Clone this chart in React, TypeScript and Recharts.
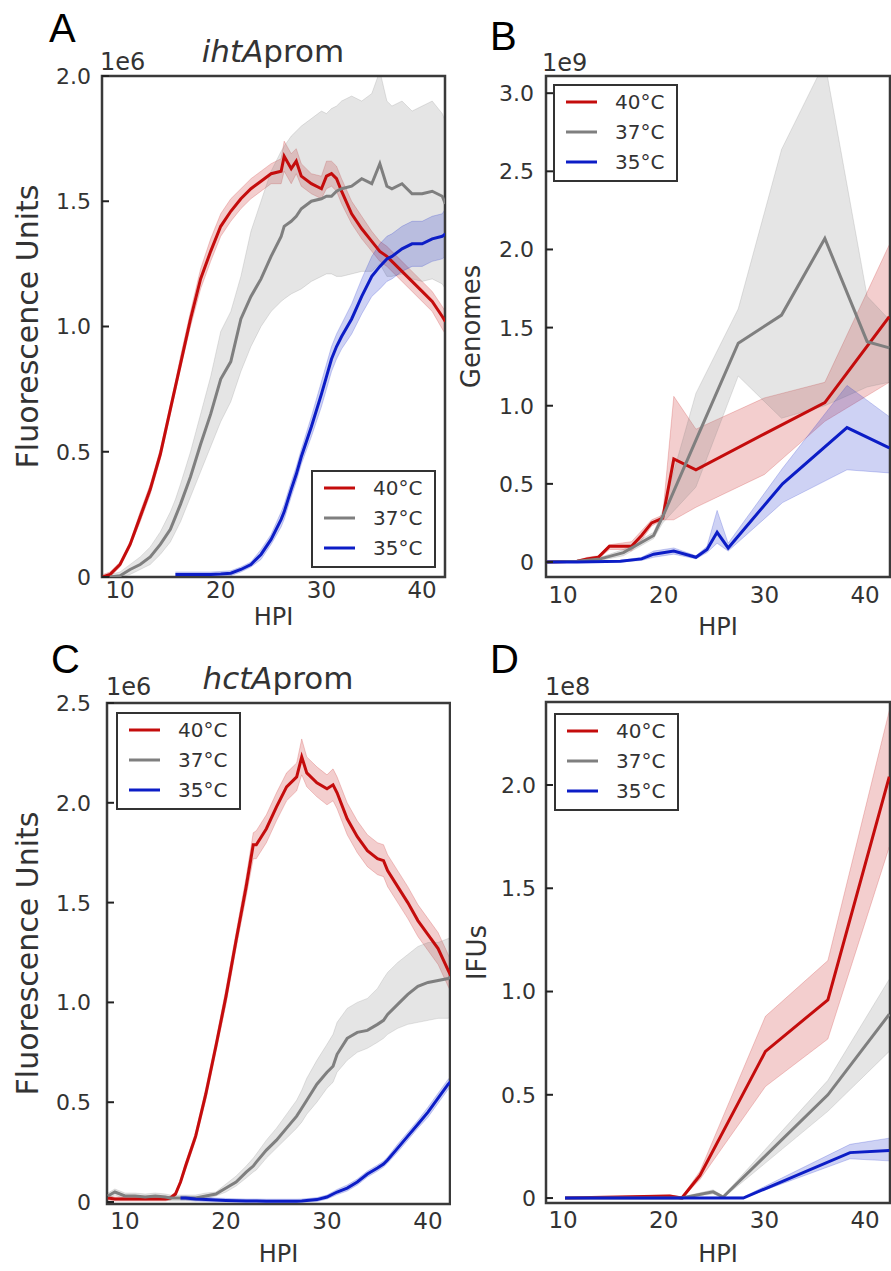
import { ComposedChart, Area, Line, XAxis, YAxis, ReferenceArea, Label } from "recharts";

const FONT = '"DejaVu Sans", sans-serif';
const TXT = "#333";
const RED = "#c40c0c";
const GRAY = "#7f7f7f";
const BLUE = "#0c1dc6";

// ---- Panel A: ihtAprom fluorescence (x1e6) ----
const aHours = [8.3, 9, 10, 11, 12, 13, 14, 15, 15.5, 16, 17, 18, 19, 20, 21, 22, 23, 24, 25, 26, 26.3, 27, 27.5, 28, 29, 30, 30.5, 31, 31.5, 32, 33, 34, 35, 35.8, 36.5, 37, 38, 39, 40, 41, 42, 42.3];
const aRed = [0, 0.01, 0.05, 0.13, 0.24, 0.35, 0.49, 0.67, 0.76, 0.85, 1.03, 1.19, 1.3, 1.4, 1.46, 1.51, 1.55, 1.58, 1.61, 1.62, 1.68, 1.63, 1.66, 1.6, 1.57, 1.55, 1.6, 1.61, 1.59, 1.54, 1.45, 1.39, 1.34, 1.3, 1.28, 1.26, 1.22, 1.18, 1.14, 1.1, 1.04, 1.02];
const aRedLo = [0, 0, 0.04, 0.12, 0.22, 0.33, 0.47, 0.65, 0.74, 0.83, 1.0, 1.15, 1.26, 1.36, 1.42, 1.47, 1.51, 1.54, 1.57, 1.57, 1.62, 1.57, 1.61, 1.56, 1.53, 1.51, 1.55, 1.56, 1.54, 1.49, 1.41, 1.35, 1.3, 1.26, 1.24, 1.22, 1.18, 1.14, 1.1, 1.06, 0.99, 0.97];
const aRedHi = [0.01, 0.02, 0.06, 0.14, 0.26, 0.37, 0.51, 0.69, 0.78, 0.88, 1.06, 1.23, 1.35, 1.45, 1.51, 1.55, 1.59, 1.62, 1.65, 1.67, 1.74, 1.69, 1.71, 1.65, 1.61, 1.6, 1.66, 1.66, 1.64, 1.59, 1.5, 1.44, 1.38, 1.34, 1.32, 1.3, 1.26, 1.22, 1.18, 1.14, 1.08, 1.06];
const aGray = [null, 0, 0.005, 0.03, 0.05, 0.08, 0.13, 0.19, 0.24, 0.29, 0.4, 0.53, 0.65, 0.79, 0.86, 1.03, 1.12, 1.19, 1.28, 1.36, 1.4, 1.42, 1.44, 1.47, 1.5, 1.51, 1.52, 1.52, 1.54, 1.55, 1.56, 1.59, 1.57, 1.65, 1.56, 1.55, 1.57, 1.53, 1.53, 1.54, 1.52, 1.49];
const aGrayLo = [null, 0, 0, 0.01, 0.03, 0.05, 0.09, 0.14, 0.18, 0.22, 0.32, 0.42, 0.52, 0.62, 0.7, 0.82, 0.92, 1.0, 1.06, 1.1, 1.11, 1.13, 1.14, 1.15, 1.18, 1.2, 1.21, 1.21, 1.2, 1.2, 1.21, 1.22, 1.22, 1.25, 1.2, 1.2, 1.21, 1.19, 1.18, 1.19, 1.17, 1.15];
const aGrayHi = [null, 0.01, 0.02, 0.05, 0.08, 0.12, 0.18, 0.26, 0.31, 0.37, 0.5, 0.65, 0.8, 0.98, 1.06, 1.2, 1.38, 1.5, 1.62, 1.7, 1.72, 1.76, 1.78, 1.8, 1.83, 1.86, 1.85, 1.87, 1.88, 1.9, 1.92, 1.9, 1.93, 2.02, 1.9, 1.88, 1.9, 1.86, 1.88, 1.9, 1.85, 1.82];
const aBlue = [null, null, null, null, null, null, null, null, 0.01, 0.01, 0.01, 0.01, 0.01, 0.012, 0.015, 0.03, 0.05, 0.09, 0.15, 0.23, 0.26, 0.35, 0.41, 0.48, 0.6, 0.73, 0.8, 0.87, 0.92, 0.96, 1.03, 1.12, 1.2, 1.24, 1.27, 1.28, 1.31, 1.33, 1.33, 1.35, 1.36, 1.37];
const aBlueLo = [null, null, null, null, null, null, null, null, 0, 0, 0, 0, 0, 0.002, 0.005, 0.02, 0.04, 0.07, 0.13, 0.2, 0.23, 0.32, 0.38, 0.45, 0.56, 0.68, 0.75, 0.82, 0.87, 0.91, 0.97, 1.05, 1.12, 1.15, 1.18, 1.19, 1.22, 1.24, 1.24, 1.26, 1.27, 1.28];
const aBlueHi = [null, null, null, null, null, null, null, null, 0.02, 0.02, 0.02, 0.02, 0.02, 0.022, 0.025, 0.04, 0.06, 0.11, 0.17, 0.26, 0.29, 0.38, 0.44, 0.51, 0.64, 0.78, 0.85, 0.92, 0.97, 1.01, 1.09, 1.19, 1.28, 1.33, 1.36, 1.37, 1.4, 1.42, 1.42, 1.44, 1.45, 1.47];

// ---- Panel B: genomes (x1e9) ----
const bRedHours = [8.4, 11.4, 12.4, 13.5, 14.6, 15.7, 16.8, 17.8, 18.8, 19.9, 21.0, 23.2, 30.0, 36.0, 42.4];
const bRed = [0, 0.005, 0.02, 0.03, 0.1, 0.1, 0.1, 0.17, 0.25, 0.28, 0.66, 0.59, 0.82, 1.02, 1.57];
const bRedLo = [0, 0, 0.01, 0.02, 0.08, 0.08, 0.07, 0.14, 0.23, 0.27, 0.27, 0.35, 0.56, 0.9, 1.15];
const bRedHi = [0, 0.01, 0.03, 0.04, 0.11, 0.12, 0.13, 0.2, 0.27, 0.3, 1.06, 0.85, 1.05, 1.15, 2.03];
const bGrayHours = [8.4, 11.4, 13.7, 16.0, 19.0, 19.9, 23.2, 27.4, 31.7, 36.0, 40.2, 42.4];
const bGray = [0, 0.005, 0.02, 0.06, 0.17, 0.29, 0.78, 1.4, 1.58, 2.07, 1.41, 1.37];
const bGrayLo = [0, 0, 0.01, 0.04, 0.15, 0.25, 0.48, 1.19, 0.92, 1.0, 1.12, 1.15];
const bGrayHi = [0, 0.01, 0.03, 0.08, 0.19, 0.33, 1.08, 1.62, 2.64, 3.2, 1.7, 1.55];
const bBlueHours = [8.4, 11.4, 15.7, 17.8, 19.0, 21.0, 23.2, 24.3, 25.3, 26.4, 31.8, 38.2, 42.4];
const bBlue = [0, 0, 0.005, 0.02, 0.05, 0.07, 0.03, 0.08, 0.19, 0.09, 0.5, 0.86, 0.73];
const bBlueLo = [0, 0, 0, 0.01, 0.03, 0.05, 0.02, 0.06, 0.12, 0.07, 0.38, 0.59, 0.57];
const bBlueHi = [0, 0, 0.01, 0.03, 0.07, 0.09, 0.04, 0.1, 0.33, 0.12, 0.6, 1.13, 0.93];

// ---- Panel C: hctAprom fluorescence (x1e6) ----
const cHours = [8.3, 9, 10, 11, 12, 13, 14, 14.5, 15, 15.5, 16, 17, 18, 19, 20, 21, 22, 22.7, 23, 24, 25, 26, 27, 27.5, 28, 29, 30, 30.6, 31, 32, 33, 34, 35, 35.6, 36, 37, 38, 39, 40, 41, 42, 42.4];
const cRed = [0.02, 0.015, 0.015, 0.015, 0.015, 0.015, 0.015, 0.02, 0.04, 0.1, 0.18, 0.33, 0.54, 0.78, 1.03, 1.31, 1.58, 1.79, 1.79, 1.87, 1.98, 2.08, 2.13, 2.23, 2.15, 2.1, 2.07, 2.09, 2.05, 1.92, 1.83, 1.76, 1.72, 1.71, 1.66, 1.58, 1.5, 1.41, 1.34, 1.27, 1.16, 1.12];
const cRedLo = [0.01, 0.005, 0.005, 0.005, 0.005, 0.005, 0.005, 0.01, 0.03, 0.09, 0.16, 0.31, 0.51, 0.75, 0.99, 1.27, 1.53, 1.72, 1.72, 1.8, 1.91, 2.01, 2.06, 2.14, 2.08, 2.03, 1.99, 2.01, 1.97, 1.84, 1.75, 1.68, 1.64, 1.63, 1.58, 1.5, 1.42, 1.33, 1.26, 1.19, 1.08, 1.04];
const cRedHi = [0.03, 0.025, 0.025, 0.025, 0.025, 0.025, 0.025, 0.03, 0.05, 0.11, 0.2, 0.35, 0.57, 0.81, 1.07, 1.35, 1.63, 1.85, 1.86, 1.94, 2.05, 2.15, 2.2, 2.32, 2.23, 2.18, 2.14, 2.17, 2.13, 2.0, 1.91, 1.84, 1.8, 1.79, 1.74, 1.66, 1.58, 1.49, 1.42, 1.35, 1.24, 1.2];
const cGray = [0.03, 0.05, 0.03, 0.03, 0.025, 0.03, 0.025, 0.02, 0.02, 0.02, 0.02, 0.02, 0.03, 0.04, 0.07, 0.1, 0.15, 0.18, 0.2, 0.26, 0.31, 0.37, 0.43, 0.47, 0.51, 0.59, 0.65, 0.68, 0.74, 0.82, 0.85, 0.86, 0.89, 0.91, 0.94, 0.99, 1.04, 1.08, 1.1, 1.11, 1.12, 1.13];
const cGrayLo = [0.015, 0.035, 0.015, 0.015, 0.01, 0.015, 0.01, 0.005, 0.005, 0.005, 0.005, 0.005, 0.015, 0.03, 0.05, 0.08, 0.12, 0.15, 0.16, 0.22, 0.27, 0.32, 0.37, 0.4, 0.44, 0.5, 0.57, 0.6, 0.65, 0.71, 0.75, 0.77, 0.8, 0.82, 0.84, 0.87, 0.89, 0.9, 0.91, 0.92, 0.92, 0.93];
const cGrayHi = [0.045, 0.065, 0.045, 0.045, 0.04, 0.045, 0.04, 0.035, 0.035, 0.035, 0.035, 0.035, 0.045, 0.05, 0.09, 0.13, 0.18, 0.22, 0.24, 0.31, 0.37, 0.44, 0.51, 0.56, 0.62, 0.71, 0.79, 0.84, 0.9, 0.97, 1.0, 1.02, 1.07, 1.12, 1.15, 1.2, 1.24, 1.28, 1.3, 1.3, 1.32, 1.33];
const cBlue = [null, null, null, null, null, null, null, null, null, 0.02, 0.02, 0.015, 0.012, 0.01, 0.008, 0.006, 0.005, 0.005, 0.005, 0.004, 0.004, 0.004, 0.004, 0.005, 0.007, 0.012, 0.025, 0.04, 0.05, 0.07, 0.1, 0.14, 0.17, 0.19, 0.21, 0.27, 0.33, 0.39, 0.45, 0.52, 0.59, 0.61];
const cBlueLo = [null, null, null, null, null, null, null, null, null, 0.01, 0.01, 0.005, 0.002, 0, 0, 0, 0, 0, 0, 0, 0, 0, 0, 0, 0, 0.002, 0.015, 0.028, 0.037, 0.055, 0.085, 0.125, 0.155, 0.175, 0.195, 0.25, 0.31, 0.37, 0.425, 0.495, 0.565, 0.585];
const cBlueHi = [null, null, null, null, null, null, null, null, null, 0.03, 0.03, 0.025, 0.022, 0.02, 0.018, 0.016, 0.015, 0.015, 0.015, 0.014, 0.014, 0.014, 0.014, 0.015, 0.017, 0.022, 0.035, 0.052, 0.063, 0.085, 0.115, 0.155, 0.185, 0.205, 0.225, 0.29, 0.35, 0.41, 0.475, 0.545, 0.615, 0.635];

// ---- Panel D: IFUs (x1e8) ----
const dRedHours = [10.2, 20.6, 21.8, 23.6, 30.1, 36.3, 42.4];
const dRed = [0, 0.01, 0, 0.11, 0.71, 0.96, 2.04];
const dRedLo = [0, 0.005, 0, 0.09, 0.54, 0.77, 1.7];
const dRedHi = [0, 0.015, 0.005, 0.13, 0.88, 1.15, 2.36];
const dGrayHours = [10.2, 21.8, 24.9, 25.9, 36.3, 42.4];
const dGray = [0, 0, 0.03, 0.005, 0.5, 0.89];
const dGrayLo = [0, 0, 0.02, 0, 0.42, 0.71];
const dGrayHi = [0, 0.005, 0.04, 0.01, 0.57, 1.06];
const dBlueHours = [10.2, 27.9, 38.5, 42.4];
const dBlue = [0, 0, 0.22, 0.23];
const dBlueLo = [0, 0, 0.19, 0.18];
const dBlueHi = [0, 0.005, 0.26, 0.29];

const temps = ["40°C", "37°C", "35°C"];
const colors = [RED, GRAY, BLUE];

type Pt = { h: number; m: number; band: [number, number] };
const toPts = (hours: number[], m: (number | null)[], lo: (number | null)[], hi: (number | null)[]): Pt[] =>
    hours
        .map((h, i) => ({ h, m: m[i] as number, band: [lo[i], hi[i]] as [number, number] }))
        .filter((p) => p.m !== null);

const fmt = (v: number) => (v === 0 ? "0" : v.toFixed(1));

function YTick(props: any) {
    const { x, y, payload, gap } = props;
    return (
        <g>
            <line x1={x + gap} x2={x + gap + 7} y1={y} y2={y} stroke="#222" strokeWidth={2} />
            <text x={x} y={y} dy="0.36em" textAnchor="end" fontSize={22} fill={TXT} fontFamily={FONT}>
                {fmt(payload.value)}
            </text>
        </g>
    );
}

function Panel(p: any) {
    return (
        <div style={{ position: "absolute", left: p.left, top: p.top }}>
            <ComposedChart width={p.width} height={p.height} margin={{ top: p.plotTop, right: p.rightPad, bottom: 0, left: 0 }}>
                <XAxis
                    dataKey="h" type="number" domain={p.xDomain} ticks={[10, 20, 30, 40]} allowDataOverflow
                    axisLine={false} tickLine={false} tickSize={0} tickMargin={p.xGap} height={p.xAxisH}
                    tick={{ fontSize: 23, fill: TXT, fontFamily: FONT }}
                >
                    <Label value="HPI" position="insideBottom" offset={p.hpiOffset} fontSize={24} fill={TXT} fontFamily={FONT} />
                </XAxis>
                <YAxis
                    type="number" domain={p.yDomain} ticks={p.yTicks} allowDataOverflow
                    axisLine={false} tickLine={false} tickSize={0} tickMargin={p.yGap} width={p.yAxisW}
                    tick={(t: any) => <YTick {...t} gap={p.yGap} />}
                >
                    <Label
                        value={p.yLabel} angle={-90} position="insideLeft" offset={p.yLabelX}
                        fontSize={p.yLabelSize} fill={TXT} fontFamily={FONT} style={{ textAnchor: "middle" }}
                    />
                </YAxis>
                {p.series.map((s: any) => (
                    <Area
                        key={"band" + s.name} data={s.data} dataKey="band" type="linear"
                        fill={s.color} fillOpacity={0.2} stroke={s.color} strokeOpacity={0.2} strokeWidth={1}
                        isAnimationActive={false}
                    />
                ))}
                {p.series.map((s: any) => (
                    <Line
                        key={"line" + s.name} data={s.data} dataKey="m" type="linear"
                        stroke={s.color} strokeWidth={3} dot={false} isAnimationActive={false}
                    />
                ))}
                <ReferenceArea
                    x1={p.xDomain[0]} x2={p.xDomain[1]} y1={p.yDomain[0]} y2={p.yDomain[1]}
                    fill="none" stroke="#3a3a3a" strokeWidth={2.5} ifOverflow="visible"
                />
            </ComposedChart>
        </div>
    );
}

function LegendBox({ x, y }: { x: number; y: number }) {
    return (
        <g>
            <rect x={x} y={y} width={123} height={96} fill="#fff" stroke="#333" strokeWidth={2} />
            {temps.map((t, i) => (
                <g key={t}>
                    <line x1={x + 12} x2={x + 43} y1={y + 17 + i * 30} y2={y + 17 + i * 30} stroke={colors[i]} strokeWidth={3} />
                    <text x={x + 61} y={y + 17 + i * 30} dy="0.36em" fontSize={20} fill={TXT} fontFamily={FONT}>{t}</text>
                </g>
            ))}
        </g>
    );
}

export default function App() {
    const mk = (hours: number[], m: any[], lo: any[], hi: any[][] | any[], i: number) => ({
        name: temps[i], color: colors[i], data: toPts(hours, m, lo, hi as any[]),
    });
    const seriesA = [mk(aHours, aRed, aRedLo, aRedHi, 0), mk(aHours, aGray, aGrayLo, aGrayHi, 1), mk(aHours, aBlue, aBlueLo, aBlueHi, 2)];
    const seriesB = [mk(bRedHours, bRed, bRedLo, bRedHi, 0), mk(bGrayHours, bGray, bGrayLo, bGrayHi, 1), mk(bBlueHours, bBlue, bBlueLo, bBlueHi, 2)];
    const seriesC = [mk(cHours, cRed, cRedLo, cRedHi, 0), mk(cHours, cGray, cGrayLo, cGrayHi, 1), mk(cHours, cBlue, cBlueLo, cBlueHi, 2)];
    const seriesD = [mk(dRedHours, dRed, dRedLo, dRedHi, 0), mk(dGrayHours, dGray, dGrayLo, dGrayHi, 1), mk(dBlueHours, dBlue, dBlueLo, dBlueHi, 2)];

    return (
        <div style={{ position: "absolute", left: 0, top: 0, width: 891, height: 1271, background: "#fff", overflow: "hidden" }}>
            <Panel
                left={0} top={0} width={450} height={640} plotTop={76} rightPad={5} yAxisW={102} xAxisH={63}
                xDomain={[8.21, 42.27]} yDomain={[0, 2.0]} yTicks={[0, 0.5, 1, 1.5, 2]}
                xGap={5} yGap={11} hpiOffset={15} yLabel="Fluorescence Units" yLabelSize={30} yLabelX={27}
                series={seriesA}
            />
            <Panel
                left={450} top={0} width={441} height={640} plotTop={76} rightPad={1} yAxisW={96} xAxisH={63}
                xDomain={[8.31, 42.47]} yDomain={[-0.096, 3.11]} yTicks={[0, 0.5, 1, 1.5, 2, 2.5, 3]}
                xGap={10} yGap={12} hpiOffset={5} yLabel="Genomes" yLabelSize={26} yLabelX={21}
                series={seriesB}
            />
            <Panel
                left={0} top={640} width={451} height={631} plotTop={63} rightPad={1} yAxisW={107} xAxisH={67}
                xDomain={[8.22, 42.18]} yDomain={[-0.01, 2.5]} yTicks={[0, 0.5, 1, 1.5, 2, 2.5]}
                xGap={9} yGap={16} hpiOffset={9} yLabel="Fluorescence Units" yLabelSize={30} yLabelX={27}
                series={seriesC}
            />
            <Panel
                left={450} top={640} width={441} height={631} plotTop={62} rightPad={1} yAxisW={96} xAxisH={68}
                xDomain={[8.31, 42.47]} yDomain={[-0.024, 2.402]} yTicks={[0, 0.5, 1, 1.5, 2]}
                xGap={9} yGap={10} hpiOffset={9} yLabel="IFUs" yLabelSize={26} yLabelX={27}
                series={seriesD}
            />
            <svg width={891} height={1271} style={{ position: "absolute", left: 0, top: 0, pointerEvents: "none" }}>
                <g fontFamily='"Liberation Sans", Arial, sans-serif' fontSize={40} fill="#000">
                    <text x={49} y={42}>A</text>
                    <text x={490} y={50}>B</text>
                    <text x={51} y={673}>C</text>
                    <text x={490} y={673}>D</text>
                </g>
                <g fontFamily={FONT} fill={TXT}>
                    <text x={273} y={62} fontSize={31} textAnchor="middle">
                        <tspan fontStyle="italic">ihtA</tspan>prom
                    </text>
                    <text x={278} y={689} fontSize={31} textAnchor="middle">
                        <tspan fontStyle="italic">hctA</tspan>prom
                    </text>
                    <text x={100} y={70} fontSize={24}>1e6</text>
                    <text x={542} y={71} fontSize={24}>1e9</text>
                    <text x={106} y={695} fontSize={24}>1e6</text>
                    <text x={545} y={695} fontSize={24}>1e8</text>
                </g>
                <LegendBox x={312} y={471} />
                <LegendBox x={554} y={85} />
                <LegendBox x={117} y={713} />
                <LegendBox x={555} y={714} />
            </svg>
        </div>
    );
}
